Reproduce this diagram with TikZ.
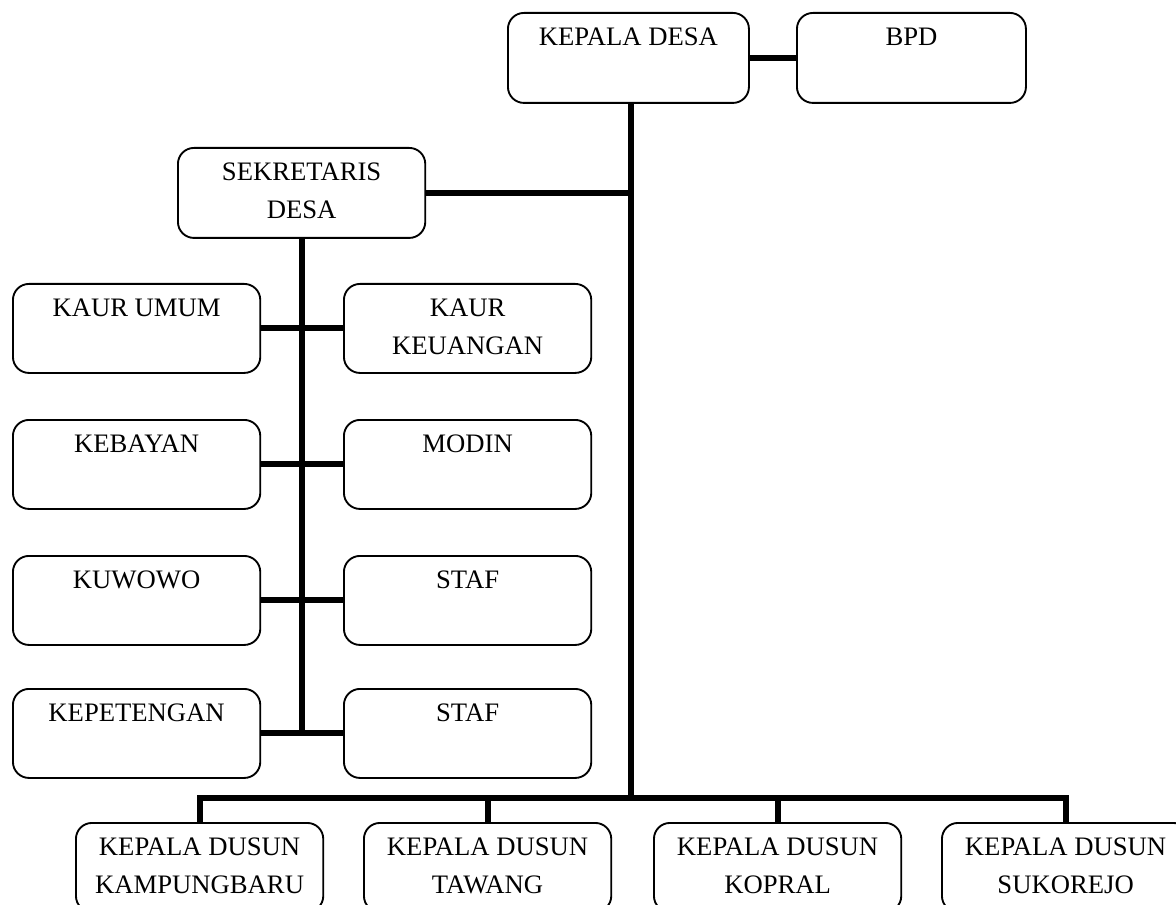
\documentclass[tikz,border=0pt]{standalone}
\usepackage{fontspec}
\setmainfont{Liberation Serif}
\begin{document}
\begin{tikzpicture}[x=0.75pt,y=-0.75pt,
  box/.style={draw, line width=1.4pt, rounded corners=12pt, anchor=north west, inner sep=0pt,
              minimum width=185.5pt, minimum height=66.75pt},
  lbl/.style={anchor=north, inner sep=0pt, align=center, font=\fontsize{20}{28.5}\selectfont},
  link/.style={line width=4.5pt, line join=miter}]
\useasboundingbox (0,0) rectangle (1176,905);
\fill[white] (0,0) rectangle (1176,905);
\clip (0,0) rectangle (1176,905);

% top
\node[box, minimum width=180.75pt, minimum height=67.5pt] (kd) at (507,12) {};
\node[box, minimum width=171.75pt, minimum height=67.5pt] (bpd) at (796,12) {};
\node[box, minimum height=67.5pt] (sek) at (177,147) {};

% left/right columns
\node[box] (l1) at (12,283) {};
\node[box] (r1) at (343,283) {};
\node[box] (l2) at (12,419) {};
\node[box] (r2) at (343,419) {};
\node[box] (l3) at (12,555) {};
\node[box] (r3) at (343,555) {};
\node[box] (l4) at (12,688) {};
\node[box] (r4) at (343,688) {};

% bottom
\node[box] (d1) at (75,822) {};
\node[box] (d2) at (363,822) {};
\node[box] (d3) at (653,822) {};
\node[box] (d4) at (941,822) {};

% labels
\node[lbl] (kdt) at ([yshift=-12pt]kd.north) {KEPALA DESA};
\node[lbl] (bpdt) at ([yshift=-12pt]bpd.north) {BPD};
\node[lbl] (sekt) at ([yshift=-12pt]sek.north) {SEKRETARIS\\DESA};
\node[lbl] (l1t) at ([yshift=-12pt]l1.north) {KAUR UMUM};
\node[lbl] (r1t) at ([yshift=-12pt]r1.north) {KAUR\\KEUANGAN};
\node[lbl] (l2t) at ([yshift=-12pt]l2.north) {KEBAYAN};
\node[lbl] (r2t) at ([yshift=-12pt]r2.north) {MODIN};
\node[lbl] (l3t) at ([yshift=-12pt]l3.north) {KUWOWO};
\node[lbl] (r3t) at ([yshift=-12pt]r3.north) {STAF};
\node[lbl] (l4t) at ([yshift=-12pt]l4.north) {KEPETENGAN};
\node[lbl] (r4t) at ([yshift=-12pt]r4.north) {STAF};
\node[lbl] (d1t) at ([yshift=-12pt]d1.north) {KEPALA DUSUN\\KAMPUNGBARU};
\node[lbl] (d2t) at ([yshift=-12pt]d2.north) {KEPALA DUSUN\\TAWANG};
\node[lbl] (d3t) at ([yshift=-12pt]d3.north) {KEPALA DUSUN\\KOPRAL};
\node[lbl] (d4t) at ([yshift=-12pt]d4.north) {KEPALA DUSUN\\SUKOREJO};

% connectors
\coordinate (bus) at (630,798);
\draw[link] (kd.east) -- (bpd.west);
\draw[link] ([xshift=2.25pt]kd.south) -- ([xshift=2.25pt]kd.south |- bus);
\draw[link] (sek.east) -- ([xshift=2.25pt]sek.east -| kd.south);
\draw[link] (sek.south) -- (sek.south |- l4.east);
\draw[link] (l1.east) -- (r1.west);
\draw[link] (l2.east) -- (r2.west);
\draw[link] (l3.east) -- (r3.west);
\draw[link] (l4.east) -- (r4.west);
\draw[link] (d1.north) -- (d1.north |- bus) -- (d4.north |- bus) -- (d4.north);
\draw[link] (d2.north) -- (d2.north |- bus);
\draw[link] (d3.north) -- (d3.north |- bus);
\end{tikzpicture}
\end{document}
